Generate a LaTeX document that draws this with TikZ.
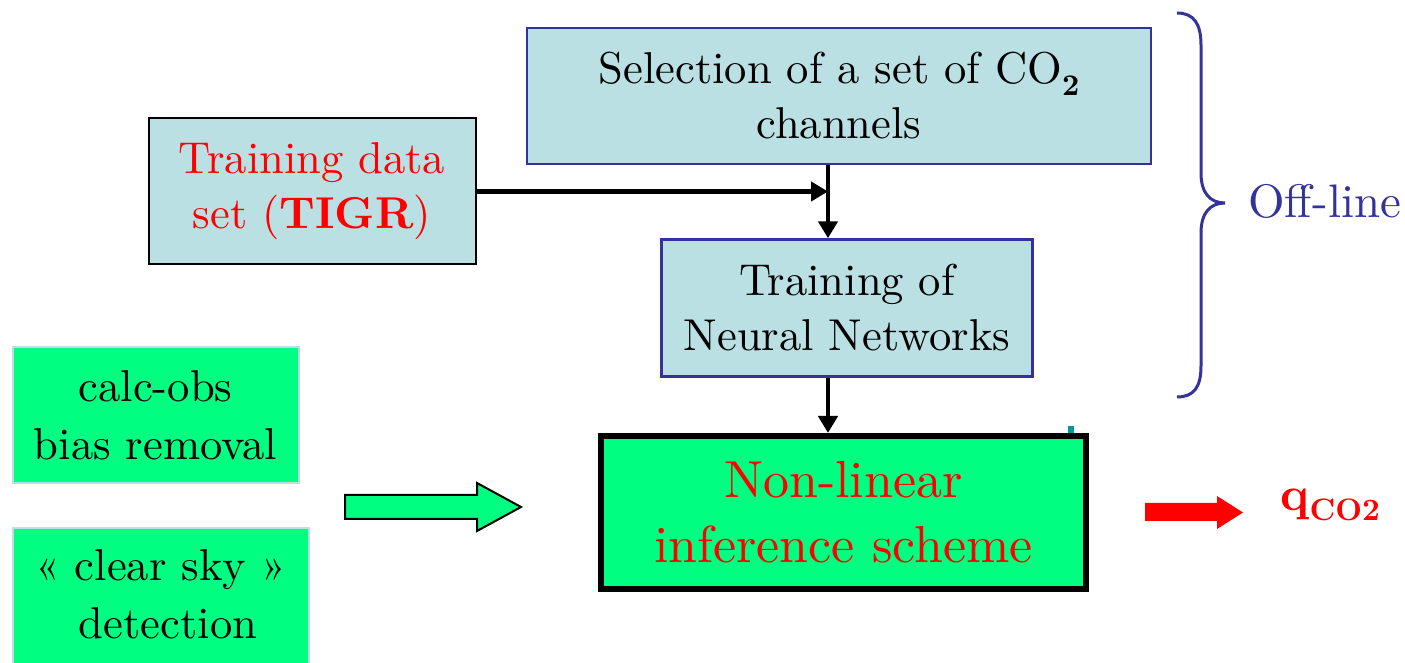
\documentclass[tikz,border=0pt]{standalone}
\usepackage{fontspec}
\setmainfont{lmroman10-regular.otf}[BoldFont=lmroman10-bold.otf]
\usetikzlibrary{arrows.meta}
\definecolor{paleblue}{HTML}{BAE0E3}
\definecolor{frameblue}{HTML}{333399}
\definecolor{brightgreen}{HTML}{00FF80}
\definecolor{tealmark}{HTML}{009999}

\begin{document}
\begin{tikzpicture}[x=0.5pt,y=-0.5pt,
  box/.style={rectangle, inner sep=0pt, align=center,
    font=\fontsize{22.3}{27.5}\selectfont},
  offbox/.style={box, draw=frameblue, line width=1.2pt, fill=paleblue},
  inbox/.style={box, draw=paleblue, line width=1pt, fill=brightgreen,
    font=\fontsize{22.3}{29}\selectfont},
  flow/.style={line width=2.4pt, -{Triangle[length=8.5pt,width=9.5pt]}},
]
\useasboundingbox (0,0) rectangle (1405,663);
\clip (0,0) rectangle (1405,663);

% off-line stage
\node[offbox, minimum width=312pt, minimum height=68pt] (sel) at (839,96)
  {Selection of a set of CO\raisebox{-0.25em}{\fontsize{15}{15}\selectfont\bfseries 2}\\channels};
\node[box, draw=black, line width=1pt, fill=paleblue, text=red,
  minimum width=163.5pt, minimum height=73pt] (tds) at (312,191.5)
  {Training data\\set (\textbf{TIGR})};
\node[offbox, minimum width=185.5pt, minimum height=68.5pt] (tnn) at (847,308)
  {Training of\\Neural Networks};

% inference stage
\node[box, draw=black, line width=3pt, fill=brightgreen, text=red,
  minimum width=242.5pt, minimum height=76.5pt,
  font=\fontsize{26}{32.5}\selectfont] (nli) at (843.5,512.5)
  {Non-linear\\inference scheme};
\node[inbox, minimum width=143pt, minimum height=68pt] (cob) at (155.5,415.5)
  {calc-obs\\bias removal};
\node[inbox, minimum width=148pt, minimum height=72pt, text depth=5.5pt] (csd) at (160.5,600)
  {« clear sky »\\\ detection};

% connectors
\coordinate (j) at (828,192);
\draw[flow] (tds.east) -- (tds.east -| j);
\draw[flow] (sel.south -| j) -- (tnn.north -| j);
\draw[flow] (tnn.south -| j) -- (nli.north -| j);

% block arrows
\draw[line width=1pt, fill=brightgreen, line join=miter]
  (345,495) -- (477,495) -- (477,483) -- (521,507) -- (477,531) -- (477,519) -- (345,519) -- cycle;
\fill[red] (1145,503) -- (1217,503) -- (1217,496) -- (1243,512.5) -- (1217,529) -- (1217,521) -- (1145,521) -- cycle;
\node[text=red, anchor=base west, inner sep=0pt,
  font=\bfseries\fontsize{24}{24}\selectfont] (qco) at (1280,510)
  {q\raisebox{-5.5pt}{\fontsize{15.5}{15.5}\selectfont CO2}};

% brace grouping the off-line steps
\draw[frameblue, line width=1.5pt]
  (1177,13) .. controls (1194,13) and (1201,24) .. (1201,45)
  -- (1201,173) .. controls (1201,193) and (1210,203) .. (1225,203)
  .. controls (1210,203) and (1201,213) .. (1201,233)
  -- (1201,366) .. controls (1201,387) and (1194,397) .. (1177,397);
\node[text=frameblue, anchor=base west, inner sep=0pt,
  font=\fontsize{23.5}{23.5}\selectfont] (offl) at (1248,218) {Off-line};

\fill[tealmark] (1068,426) rectangle (1074,433);
\end{tikzpicture}
\end{document}
